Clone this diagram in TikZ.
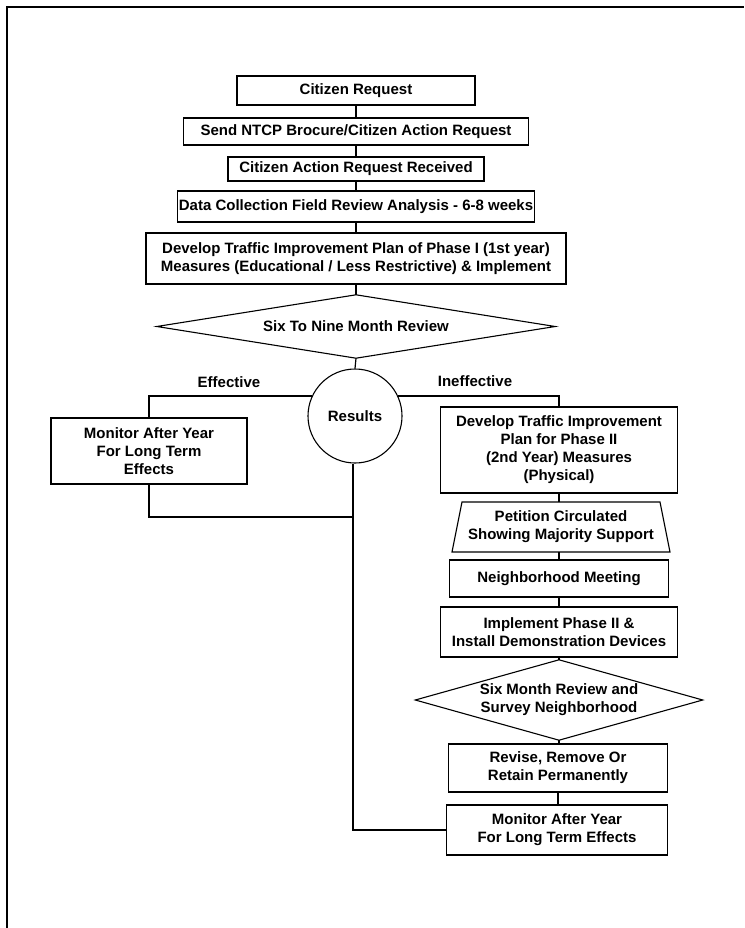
\documentclass[tikz,border=0pt]{standalone}
\usepackage{fontspec}
\setmainfont{Liberation Sans}
\begin{document}
\begin{tikzpicture}[x=1pt,y=-1pt,
  every node/.style={font=\fontsize{15}{18}\selectfont\bfseries, align=center, inner sep=0pt},
  boxnode/.style={draw, line width=1.1pt, rectangle},
  decision/.style={rectangle},
  outline/.style={line width=1.1pt},
  link/.style={line width=1.2pt},
  lbl/.style={}
]
\useasboundingbox (0,0) rectangle (744,928);
\draw[line width=1.6pt] (7,928) -- (7,7) -- (744,7);

% main column
\node[boxnode, minimum width=238pt, minimum height=29pt] (cr) at (356,90.5) {Citizen Request};
\node[boxnode, minimum width=345pt, minimum height=27pt] (send) at (356,131.5) {Send NTCP Brocure/Citizen Action Request};
\node[boxnode, minimum width=256pt, minimum height=24pt] (car) at (356,169) {Citizen Action Request Received};
\node[boxnode, minimum width=357pt, minimum height=31pt] (data) at (356,206.5) {Data Collection Field Review Analysis - 6-8 weeks};
\node[boxnode, minimum width=420pt, minimum height=51pt] (dev1) at (356,258.5) {Develop Traffic Improvement Plan of Phase I (1st year)\\Measures (Educational / Less Restrictive) \& Implement};
\node[decision, minimum width=398pt, minimum height=63pt] (dia1) at (356,326.5) {Six To Nine Month Review};
\draw[outline] (dia1.north) -- (dia1.east) -- (dia1.south) -- (dia1.west) -- cycle;
\node[draw, line width=1.1pt, circle, minimum size=94pt] (res) at (355,416) {Results};

\node[lbl] (eff) at (229,382) {Effective};
\node[lbl] (ineff) at (475,381) {Ineffective};

% left branch
\node[boxnode, minimum width=196pt, minimum height=66pt] (mon1) at (149,451) {Monitor After Year\\For Long Term\\Effects};

% right column
\node[boxnode, minimum width=237pt, minimum height=86pt] (dev2) at (559,450) {Develop Traffic Improvement\\Plan for Phase II\\(2nd Year) Measures\\(Physical)};
\node[minimum width=218pt, minimum height=50pt] (pet) at (561,527) {Petition Circulated\\Showing Majority Support};
\draw[outline] (462,502) -- (660,502) -- (670,552) -- (452,552) -- cycle;
\node[boxnode, minimum width=219pt, minimum height=37pt] (nm) at (559,578.5) {Neighborhood Meeting};
\node[boxnode, minimum width=237pt, minimum height=50pt] (imp) at (559,632) {Implement Phase II \&\\Install Demonstration Devices};
\node[decision, minimum width=287pt, minimum height=80pt] (dia2) at (559,700) {Six Month Review and\\Survey Neighborhood};
\draw[outline] (dia2.north) -- (dia2.east) -- (dia2.south) -- (dia2.west) -- cycle;
\node[boxnode, minimum width=219pt, minimum height=48pt] (rev) at (558,768) {Revise, Remove Or\\Retain Permanently};
\node[boxnode, minimum width=221pt, minimum height=50pt] (mon2) at (557,830) {Monitor After Year\\For Long Term Effects};

\coordinate (join) at (353,517);

% connectors
\draw[link] (cr.south) -- (send.north);
\draw[link] (send.south) -- (car.north);
\draw[link] (car.south) -- (data.north);
\draw[link] (data.south) -- (dev1.north);
\draw[link] (dev1.south) -- (dia1.north);
\draw[link] (dia1.south) -- (res.north);
\draw[link] (res.155) -- (mon1.north |- res.155) -- (mon1.north);
\draw[link] (res.25) -- (dev2.north |- res.25) -- (dev2.north);
\draw[link] (mon1.south) |- (join);
\draw[link] (res.south -| join) -- (join |- mon2.west) -- (mon2.west);
\draw[link] (dev2.south) -- (dev2.south |- pet.north);
\draw[link] (nm.north |- pet.south) -- (nm.north);
\draw[link] (nm.south) -- (imp.north);
\draw[link] (imp.south) -- (dia2.north);
\draw[link] (dia2.south) -- (dia2.south |- rev.north);
\draw[link] (rev.south) -- (rev.south |- mon2.north);
\end{tikzpicture}
\end{document}
